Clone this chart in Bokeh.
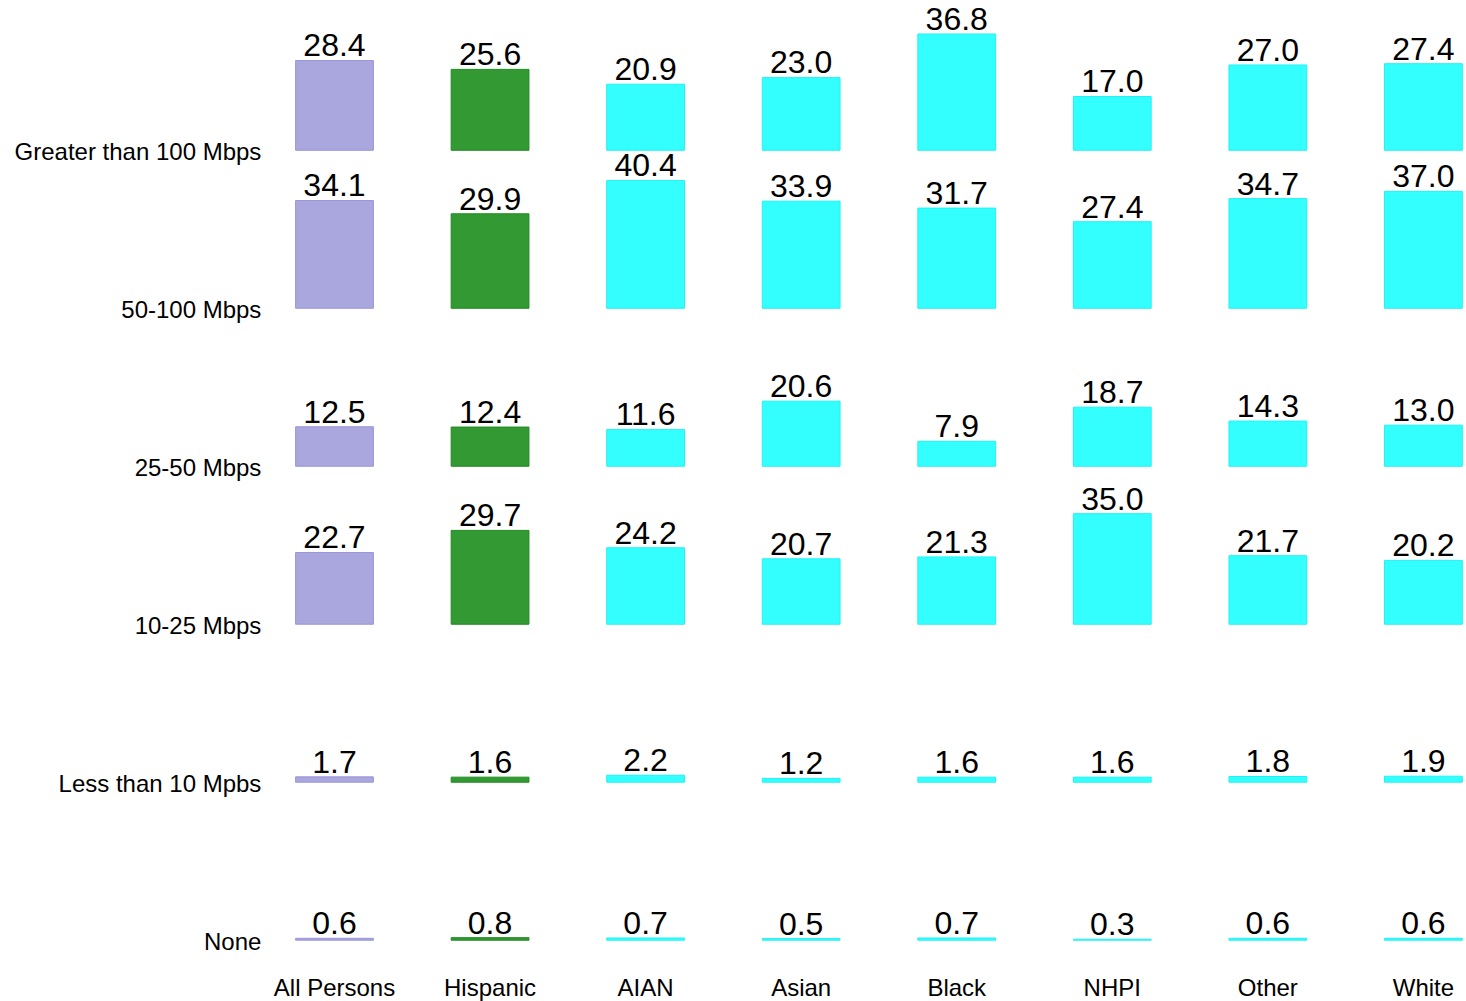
from bokeh.plotting import figure
from bokeh.models import ColumnDataSource, Range1d
from bokeh.core.properties import value
from bokeh.embed import file_html
from bokeh.resources import INLINE

groups = ["All Persons", "Hispanic", "AIAN", "Asian", "Black", "NHPI", "Other", "White"]
speeds = ["Greater than 100 Mbps", "50-100 Mbps", "25-50 Mbps", "10-25 Mbps", "Less than 10 Mpbs", "None"]

gt100 = [28.4, 25.6, 20.9, 23.0, 36.8, 17.0, 27.0, 27.4]
s50_100 = [34.1, 29.9, 40.4, 33.9, 31.7, 27.4, 34.7, 37.0]
s25_50 = [12.5, 12.4, 11.6, 20.6, 7.9, 18.7, 14.3, 13.0]
s10_25 = [22.7, 29.7, 24.2, 20.7, 21.3, 35.0, 21.7, 20.2]
lt10 = [1.7, 1.6, 2.2, 1.2, 1.6, 1.6, 1.8, 1.9]
none = [0.6, 0.8, 0.7, 0.5, 0.7, 0.3, 0.6, 0.6]

rows = [gt100, s50_100, s25_50, s10_25, lt10, none]

fills = ["#aaa6de", "#339933"] + ["#33ffff"] * 6
lines = ["#9995d8", "#1f8a1f"] + ["#22f2f2"] * 6

ROW_GAP = 50.0
n_rows = len(rows)

xs, bottoms, tops, fc, lc, labs, ly = [], [], [], [], [], [], []
for r, vals in enumerate(rows):
    base = (n_rows - 1 - r) * ROW_GAP
    for i, v in enumerate(vals):
        xs.append(i)
        bottoms.append(base)
        tops.append(base + v)
        fc.append(fills[i])
        lc.append(lines[i])
        labs.append("%.1f" % v)
        ly.append(base + v + 1.3)

src = ColumnDataSource(dict(x=xs, bottom=bottoms, top=tops, fc=fc, lc=lc, lab=labs, ly=ly))

p = figure(width=1466, height=1001, output_backend="svg", toolbar_location=None,
           min_border=0, min_border_left=0, min_border_right=0, min_border_top=0, min_border_bottom=0)
p.x_range = Range1d(-2.147, 7.277)
p.y_range = Range1d(-19.4, 297.4)
p.axis.visible = False
p.grid.visible = False
p.outline_line_color = None
p.background_fill_color = "white"
p.border_fill_color = "white"

p.vbar(x="x", bottom="bottom", top="top", width=0.5, fill_color="fc", line_color="lc",
       line_width=1, source=src)

p.text(x="x", y="ly", text="lab", source=src, text_align="center", text_baseline="bottom",
       text_font=value("Liberation Sans"), text_font_size="32px", text_color="black")

# row labels
row_y = [(n_rows - 1 - r) * ROW_GAP - 0.3 for r in range(n_rows)]
p.text(x=[-0.47] * n_rows, y=row_y, text=speeds, text_align="right", text_baseline="middle",
       text_font=value("Liberation Sans"), text_font_size="24px", text_color="black")

# category labels
p.text(x=list(range(len(groups))), y=[-14.9] * len(groups), text=groups, text_align="center",
       text_baseline="middle", text_font=value("Liberation Sans"), text_font_size="24px",
       text_color="black")

open("out.html", "w").write(file_html(p, INLINE))
